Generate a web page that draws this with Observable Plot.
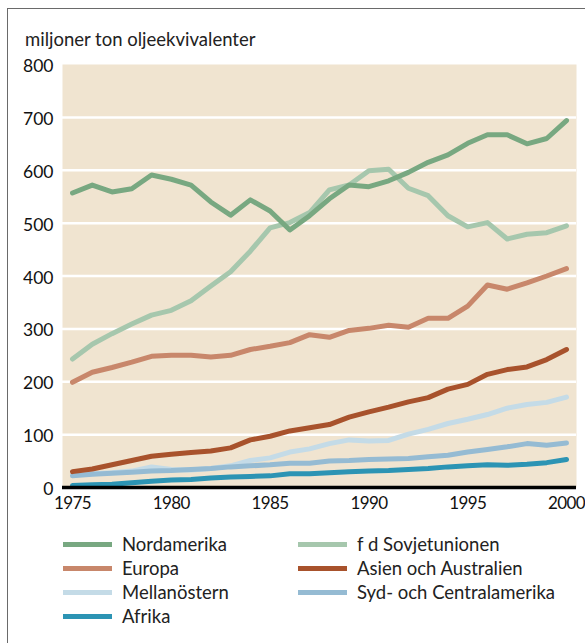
<!DOCTYPE html>
<html>
<head>
<meta charset="utf-8">
<script src="https://cdn.jsdelivr.net/npm/d3@7"></script>
<script src="https://cdn.jsdelivr.net/npm/@observablehq/plot@0.6"></script>
<style>
  html, body { margin: 0; padding: 0; background: #fff; overflow: hidden; }
  #wrap { position: relative; width: 585px; height: 643px; font-family: Lato, "DejaVu Sans", sans-serif; color: #222; }
  #border { position: absolute; left: 7px; top: 8px; width: 700px; height: 700px; border-left: 1.5px solid #6a6a6a; border-top: 1.5px solid #6a6a6a; }
  #chart { position: absolute; left: 0; top: 0; }
  #title { position: absolute; left: 25px; top: 28px; font-size: 18.5px; white-space: nowrap; }
  .leg { position: absolute; font-size: 18.5px; white-space: nowrap; display: flex; align-items: center; height: 22px; }
  .sw { display: inline-block; width: 49px; height: 5px; margin-right: 10px; }
</style>
</head>
<body>
<div id="wrap">
  <div id="border"></div>
  <div id="chart"></div>
  <div id="title">miljoner ton oljeekvivalenter</div>
  <div id="legend"></div>
</div>
<script>
const years = [1975,1976,1977,1978,1979,1980,1981,1982,1983,1984,1985,1986,1987,1988,1989,1990,1991,1992,1993,1994,1995,1996,1997,1998,1999,2000];

const regions = ["Nordamerika","f d Sovjetunionen","Europa","Asien och Australien","Mellanöstern","Syd- och Centralamerika","Afrika"];
const colors  = ["#78a881","#a6c7ad","#c8876b","#a8522c","#c4dbe7","#95bbd3","#2c94b4"];

const nordamerika = [557,572,559,565,591,583,572,540,515,544,523,487,514,546,572,569,580,596,615,629,651,667,667,650,660,694];
const sovjet      = [243,271,291,309,326,335,353,381,408,447,491,501,520,563,572,599,602,566,552,514,493,501,470,479,482,495];
const europa      = [199,218,227,237,248,250,250,247,250,261,267,274,289,284,297,301,307,303,320,320,343,383,375,387,400,414];
const asien       = [30,35,43,51,59,63,66,69,75,90,97,107,113,119,133,143,152,162,170,186,195,214,223,228,242,261];
const mellanostern= [24,26,28,31,39,34,33,36,41,51,56,67,73,83,90,88,89,101,110,121,129,138,150,157,161,171];
const syd         = [22,25,27,29,31,32,34,36,39,41,43,46,46,50,51,53,54,55,58,61,67,72,77,83,80,84];
const afrika      = [4,5,6,9,12,14,15,18,20,21,22,26,26,28,30,31,32,34,36,39,41,43,42,44,47,53];

const yTicks = [0,100,200,300,400,500,600,700,800];
const gridTicks = [100,200,300,400,500,600,700];
const xTicks = [1975,1980,1985,1990,1995,2000];

const seriesByRegion = {
  "Nordamerika": nordamerika,
  "f d Sovjetunionen": sovjet,
  "Europa": europa,
  "Asien och Australien": asien,
  "Mellanöstern": mellanostern,
  "Syd- och Centralamerika": syd,
  "Afrika": afrika
};
// drawing order (bottom to top)
const drawOrder = ["Mellanöstern","Syd- och Centralamerika","Afrika","Asien och Australien","Europa","f d Sovjetunionen","Nordamerika"];
const data = [];
for (const r of drawOrder) {
  seriesByRegion[r].forEach((v, i) => data.push({region: r, year: years[i], value: v}));
}

const chart = Plot.plot({
  width: 585,
  height: 520,
  marginLeft: 62,
  marginRight: 9,
  marginTop: 64,
  marginBottom: 33,
  style: {fontFamily: "Lato, 'DejaVu Sans', sans-serif", background: "transparent", color: "#111"},
  x: {domain: [1975, 2000], inset: 10, label: null},
  y: {domain: [0, 800], label: null},
  color: {domain: regions, range: colors},
  marks: [
    Plot.frame({fill: "#f0e4d0", stroke: null}),
    Plot.gridY(gridTicks, {stroke: "#ffffff", strokeOpacity: 1, strokeWidth: 2.5}),
    Plot.lineY(data, {x: "year", y: "value", z: "region", stroke: "region", strokeWidth: 5, strokeLinejoin: "round", strokeLinecap: "round"}),
    Plot.ruleY([0], {stroke: "#000", strokeWidth: 3.5}),
    Plot.axisX({ticks: xTicks, tickFormat: d => String(d), tickSize: 0, tickPadding: 9, fontSize: 17, label: null}),
    Plot.axisY({ticks: yTicks, tickSize: 0, tickPadding: 9, fontSize: 17.5, label: null, dy: 2})
  ]
});
chart.style.overflow = "visible";
chart.querySelectorAll("g[aria-label='x-axis tick label'] text").forEach(t => t.style.letterSpacing = "-0.6px");
document.getElementById("chart").appendChild(chart);

// legend
const legendPos = [
  {r: "Nordamerika", x: 63, y: 544},
  {r: "f d Sovjetunionen", x: 298, y: 544},
  {r: "Europa", x: 63, y: 568},
  {r: "Asien och Australien", x: 298, y: 568},
  {r: "Mellanöstern", x: 63, y: 592},
  {r: "Syd- och Centralamerika", x: 298, y: 592},
  {r: "Afrika", x: 63, y: 616}
];
const leg = document.getElementById("legend");
for (const p of legendPos) {
  const d = document.createElement("div");
  d.className = "leg";
  d.style.left = p.x + "px";
  d.style.top = (p.y - 11) + "px";
  const sw = document.createElement("span");
  sw.className = "sw";
  sw.style.background = colors[regions.indexOf(p.r)];
  d.appendChild(sw);
  d.appendChild(document.createTextNode(p.r));
  leg.appendChild(d);
}
</script>
</body>
</html>
